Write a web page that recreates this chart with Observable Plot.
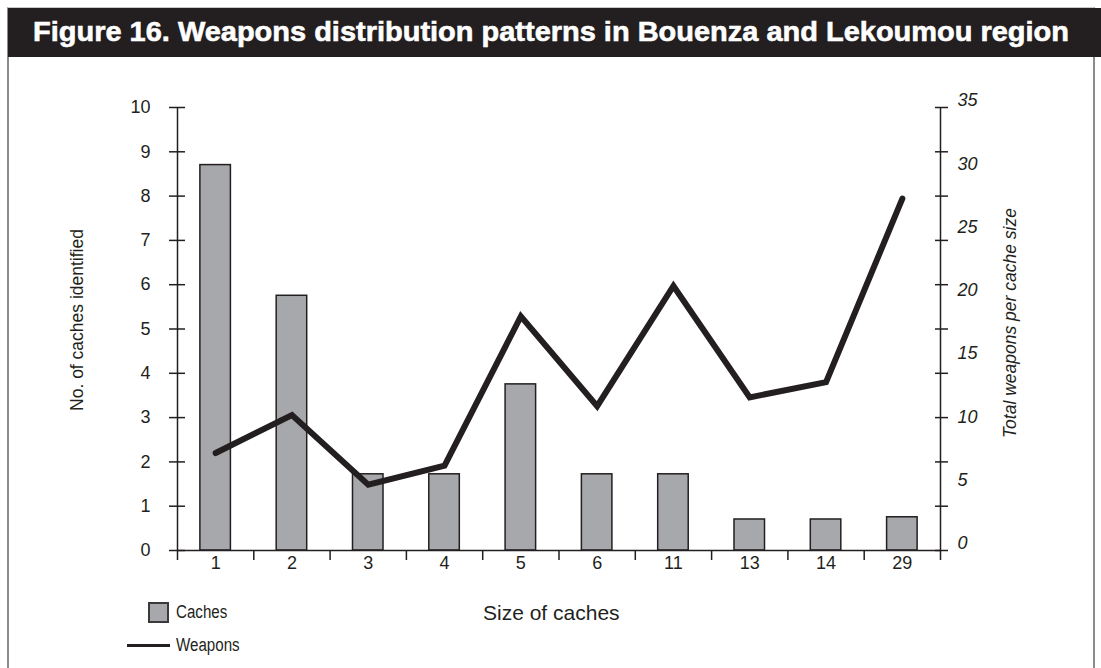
<!DOCTYPE html>
<html><head><meta charset="utf-8">
<script src="https://cdn.jsdelivr.net/npm/d3@7"></script>
<script src="https://cdn.jsdelivr.net/npm/@observablehq/plot@0.6"></script>
<style>
html,body{margin:0;padding:0;background:#fff;width:1101px;height:668px;overflow:hidden;position:relative;font-family:"Liberation Sans",Arial,Helvetica,sans-serif;color:#231f20}
#frame{position:absolute;left:7px;top:7px;width:1088px;height:720px;border:2px solid #8c8c8c;border-top-color:#c8c8c8;box-sizing:border-box}
#header{position:absolute;left:8px;top:8px;right:0;height:49px;background:#231f20}
#title{position:absolute;left:25px;top:10px;color:#fff;font-weight:bold;font-size:28px;line-height:28px;white-space:nowrap;transform-origin:0 0;-webkit-text-stroke:0.6px #fff}
#chart{position:absolute;left:0;top:57px}
.ylab{position:absolute;white-space:nowrap;transform-origin:center center;font-size:17.5px;line-height:18px}
#xlab{position:absolute;left:483px;top:602px;font-size:21px;line-height:22px;white-space:nowrap}
#swatch{position:absolute;left:148px;top:602px;width:21px;height:21px;background:#a7a8ab;border:2px solid #3a3a3a;box-sizing:border-box}
#lgline{position:absolute;left:127px;top:644px;width:43px;height:3px;background:#231f20}
.lgtext{position:absolute;left:176px;font-size:18px;line-height:20px;white-space:nowrap;transform:scaleX(0.84);transform-origin:0 0}
</style></head>
<body>
<div id="frame"></div>
<div id="header"><span id="title">Figure 16. Weapons distribution patterns in Bouenza and Lekoumou region</span></div>
<div id="chart"></div>
<div class="ylab" id="ylabL">No. of caches identified</div>
<div class="ylab" id="ylabR" style="font-style:italic">Total weapons per cache size</div>
<div id="xlab">Size of caches</div>
<div id="swatch"></div>
<div class="lgtext" style="top:602px">Caches</div>
<div id="lgline"></div>
<div class="lgtext" style="top:635px">Weapons</div>
<script>
// ---- data ----
const sizes = ["1", "2", "3", "4", "5", "6", "11", "13", "14", "29"];
const caches = [8.7, 5.75, 1.72, 1.72, 3.75, 1.72, 1.72, 0.7, 0.7, 0.75];
const weapons = [7.7, 10.7, 5.2, 6.7, 18.5, 11.4, 20.9, 12.1, 13.3, 27.8];
const leftTicks = [0, 1, 2, 3, 4, 5, 6, 7, 8, 9, 10];
const rightTicks = [0, 5, 10, 15, 20, 25, 30, 35];
const rightMax = 35, leftMax = 10;

const ink = "#231f20";
const rows = sizes.map((s, i) => ({i, size: s, caches: caches[i], weapons: weapons[i]}));
const toLeft = w => w * leftMax / rightMax;
const boundaries = d3.range(sizes.length + 1).map(k => k - 0.5);
const centers = d3.range(sizes.length);

const chart = Plot.plot({
  width: 1101, height: 523,
  marginLeft: 177, marginRight: 161, marginTop: 50, marginBottom: 30,
  style: {color: ink, background: "transparent", fontFamily: '"Liberation Sans", Arial, sans-serif'},
  x: {type: "linear", domain: [-0.5, sizes.length - 0.5], label: null},
  y: {domain: [0, leftMax], label: null},
  marks: [
    Plot.rect(rows, {x1: d => d.i - 0.2, x2: d => d.i + 0.2, y1: 0, y2: "caches", fill: "#a7a8ab", stroke: ink, strokeWidth: 1.5}),
    Plot.ruleY([0], {stroke: ink, strokeWidth: 1.5}),
    Plot.ruleX([boundaries[0], boundaries[boundaries.length - 1]], {y1: 0, y2: leftMax, stroke: ink, strokeWidth: 1.5}),
    Plot.axisY({ticks: leftTicks, anchor: "left", tickSize: 16, dx: 8, tickPadding: 19, fontSize: 18, strokeWidth: 1.5, label: null}),
    Plot.axisY({ticks: leftTicks, anchor: "right", tickSize: 13, dx: -6, tickFormat: () => "", strokeWidth: 1.5, label: null}),
    Plot.axisY({ticks: rightTicks.map(toLeft), anchor: "right", tickSize: 0, tickPadding: 17, dy: -7, fontSize: 18, fontStyle: "italic",
      tickFormat: d => String(Math.round(d * rightMax / leftMax)), label: null}),
    Plot.axisX({ticks: boundaries, tickSize: 10, tickFormat: () => "", strokeWidth: 1.5, label: null}),
    Plot.axisX({ticks: centers, tickSize: 0, tickPadding: 6, fontSize: 18, tickFormat: i => sizes[i], label: null}),
    Plot.line(rows, {x: "i", y: d => toLeft(d.weapons), stroke: ink, strokeWidth: 6, strokeLinejoin: "miter", strokeMiterlimit: 10})
  ]
});
document.getElementById("chart").appendChild(chart);

// fit title width
const t = document.getElementById("title");
const w = t.getBoundingClientRect().width;
t.style.transform = `scaleX(${1036 / w})`;

// rotated axis titles
function placeRot(id, cx, cy) {
  const el = document.getElementById(id);
  const r = el.getBoundingClientRect();
  el.style.left = (cx - r.width / 2) + "px";
  el.style.top = (cy - r.height / 2) + "px";
  el.style.transform = "rotate(-90deg)";
}
placeRot("ylabL", 77, 320);
placeRot("ylabR", 1010, 323);
</script>
</body></html>
